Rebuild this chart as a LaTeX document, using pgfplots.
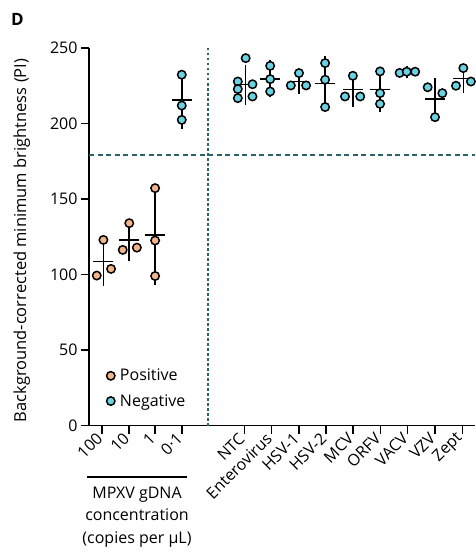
\documentclass[border=0pt]{standalone}
\usepackage{fontspec}
\setmainfont{Open Sans}
\usepackage{pgfplots}
\pgfplotsset{compat=1.18}
\definecolor{pos}{HTML}{F4B48A}
\definecolor{neg}{HTML}{6AD3E3}
\definecolor{dashc}{HTML}{2B6468}
\begin{document}
\begin{tikzpicture}[font=\fontsize{16}{19}\selectfont]
\useasboundingbox (0,0) rectangle (475pt,-556pt);
\node[font=\fontsize{17}{20}\selectfont\bfseries] at (17.5pt,-19pt) {D};
\begin{axis}[
  at={(89pt,-425.5pt)}, anchor=south west, scale only axis,
  width=386pt, height=377.5pt,
  xmin=-0.48, xmax=13.71, ymin=0, ymax=250,
  axis lines=left, axis line style={-, line width=1.6pt},
  clip=false,
  ytick={0,50,...,250},
  xtick={0,0.98,1.94,2.94,5.23,6.23,7.23,8.23,9.23,10.23,11.23,12.23,13.25},
  xticklabels={100,10,1,0·1,NTC,Enterovirus,HSV-1,HSV-2,MCV,ORFV,VACV,VZV,Zept},
  x tick label style={rotate=45, anchor=east},
  tick align=outside, major tick length=8pt,
  every tick/.style={line width=1.6pt, black},
  /pgf/number format/assume math mode=true,
  ylabel={Background-corrected minimum brightness (PI)},
  ylabel style={at={(axis description cs:-0.174,0.49)}, anchor=center, font=\fontsize{16.5}{19}\selectfont},
  legend style={at={(axis description cs:0.045,0.155)}, anchor=north west,
    draw=none, fill=none, inner sep=0pt, row sep=8pt, column sep=3pt},
  legend cell align=left,
]
% reference lines
\addplot[forget plot, dashc, line width=2pt, dash pattern=on 2.5pt off 2.5pt] coordinates {(3.9,0) (3.9,250)};
\addplot[forget plot, dashc, line width=1.6pt, dash pattern=on 5pt off 3.5pt] coordinates {(-0.48,179) (13.71,179)};
% mean +- SD
\addplot[forget plot, only marks, black, mark=-, mark size=10pt, mark options={line width=1.6pt, black},
  error bars/.cd, y dir=both, y explicit, error mark=-,
  error mark options={mark size=5.5pt, line width=1.6pt, black},
  error bar style={line width=1.6pt, black}]
  table[x=x, y=y, y error=e] {
x y e
0.05 108.6 12.5
1.0 122.7 9.8
1.95 126.2 29.3
2.93 215.5 15.3
5.28 225.8 9.6
6.18 229.6 8.5
7.24 227.9 4.7
8.20 226.6 14.7
9.22 222.5 7.9
10.22 222.5 11.0
11.20 234.0 0.5
12.24 216.1 10.5
13.28 229.8 6.1
};
% positive
\addplot[only marks, mark=*, mark size=4.2pt, mark options={fill=pos, draw=black, line width=1.5pt}]
  table {
x y
-0.195 99.3
0.33 103.7
0.05 122.9
0.76 116.3
1.28 117.8
1.0 134.0
1.95 157.2
1.95 122.5
1.95 99.0
};
\addlegendentry{Positive}
% negative
\addplot[only marks, mark=*, mark size=4.2pt, mark options={fill=neg, draw=black, line width=1.5pt}]
  table {
x y
2.93 232.3
2.93 211.9
2.93 202.4
5.28 243.3
4.99 227.8
4.99 222.8
4.99 216.8
5.53 226.0
5.53 217.9
6.18 238.2
6.18 229.4
6.18 221.2
7.24 233.4
6.94 225.2
7.50 225.2
8.20 240.0
8.20 229.0
8.20 210.9
9.22 231.6
8.93 217.9
9.49 217.9
10.22 234.5
10.22 220.1
10.22 213.0
10.94 233.5
11.20 234.3
11.51 234.3
12.24 204.2
11.97 224.0
12.51 220.1
13.28 236.7
13.01 225.0
13.56 227.8
};
\addlegendentry{Negative}
\end{axis}
\draw[line width=1.6pt] (87pt,-477pt) -- (187pt,-477pt);
\node[align=center, font=\fontsize{16}{22.5}\selectfont] at (137pt,-517pt) {MPXV gDNA\\concentration\\(copies per µL)};
\end{tikzpicture}
\end{document}
